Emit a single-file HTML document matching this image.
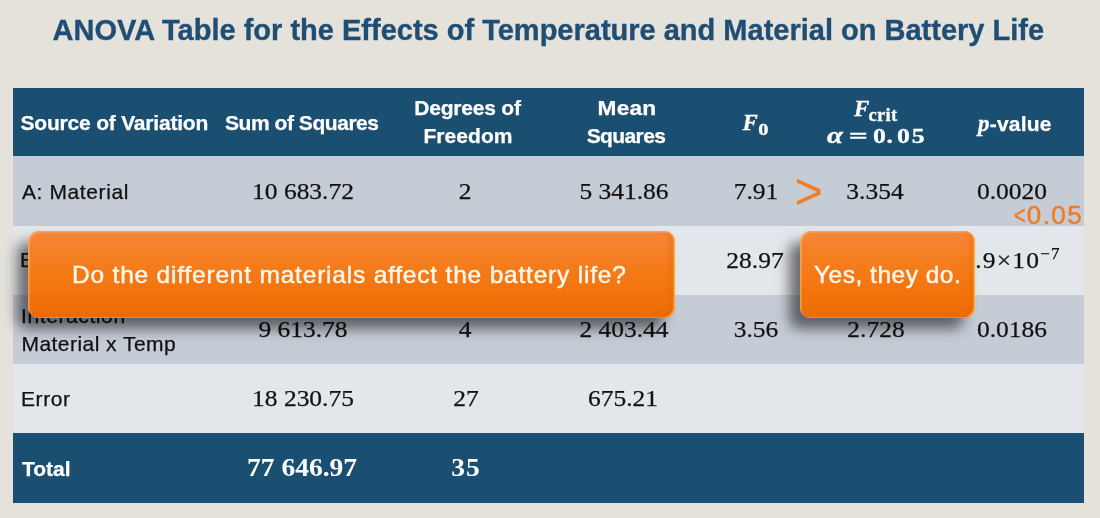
<!DOCTYPE html>
<html lang="en">
<head>
<meta charset="utf-8">
<title>ANOVA Table</title>
<style>
html,body{margin:0;padding:0;}
body{width:1100px;height:518px;overflow:hidden;position:relative;background:#e5e1db;font-family:"Liberation Sans",sans-serif;}
.abs{position:absolute;white-space:nowrap;line-height:1;}
.c{transform:translateX(-50%);}
#title{left:52.5px;top:16px;font-size:29px;font-weight:bold;color:#1f4e75;-webkit-text-stroke:0.35px #1f4e75;transform-origin:0 50%;}
.band{position:absolute;left:13px;width:1071px;}
.hd{background:#1b4f72;}
.r1{background:#c6ccd6;}
.r2{background:#e3e6ea;}
.h{color:#fff;font-weight:bold;font-size:21px;letter-spacing:-0.2px;-webkit-text-stroke:0.25px #fff;}
.t{color:#111;font-size:21px;letter-spacing:0.6px;-webkit-text-stroke:0.25px #111;}
.n{font-family:"Liberation Serif",serif;color:#111;font-size:24px;letter-spacing:0;-webkit-text-stroke:0.25px #111;}
.n.c{transform:translateX(-50%) scaleX(1.062);}
.nb{font-family:"Liberation Serif",serif;color:#fff;font-size:25px;font-weight:bold;letter-spacing:0;}
.nb.c{transform:translateX(-50%) scaleX(1.1);}
.m{font-family:"Liberation Serif",serif;font-style:italic;font-weight:bold;color:#fff;-webkit-text-stroke:0.3px #fff;}
.call{position:absolute;border-radius:11px;background:linear-gradient(180deg,#f68638 0%,#f57d1f 35%,#f47610 62%,#ec6b03 100%);box-shadow:-11px 11px 13px rgba(0,0,0,.52), inset -1.5px -0.5px 1px rgba(255,185,70,.85), inset -5px -2px 4px rgba(225,95,0,.35), inset 1.5px 1.5px 1.5px rgba(255,205,140,.5);}
.ct{color:#fff8ec;font-size:24.5px;letter-spacing:0.8px;-webkit-text-stroke:0.45px #fff8ec;}
.o{color:#f07d22;}
</style>
</head>
<body>
<div id="title" class="abs">ANOVA Table for the Effects of Temperature and Material on Battery Life</div>

<div class="band hd" style="top:88px;height:68px;"></div>
<div class="band r1" style="top:156px;height:70px;"></div>
<div class="band r2" style="top:225.5px;height:69px;"></div>
<div class="band r1" style="top:294.5px;height:69px;"></div>
<div class="band r2" style="top:363.5px;height:70px;"></div>
<div class="band hd" style="top:433px;height:69.5px;"></div>

<!-- header -->
<div class="abs h" id="h1" style="left:20.5px;top:112px;">Source of Variation</div>
<div class="abs h" id="h2" style="left:225px;top:112px;letter-spacing:-0.45px;">Sum of Squares</div>
<div class="abs h c" id="h3a" style="left:467.5px;top:97.2px;">Degrees of</div>
<div class="abs h c" id="h3b" style="left:468px;top:124.8px;letter-spacing:0.05px;">Freedom</div>
<div class="abs h c" id="h4a" style="left:627px;top:97.2px;letter-spacing:0.2px;transform:translateX(-50%) scaleX(1.08);">Mean</div>
<div class="abs h c" id="h4b" style="left:626px;top:124.8px;letter-spacing:-0.6px;">Squares</div>
<div class="abs m" id="h5" style="left:742.5px;top:110.5px;font-size:23px;">F<span style="font-style:normal;font-size:17px;position:relative;top:5.5px;left:1.5px;display:inline-block;transform:scaleX(1.2);">0</span></div>
<div class="abs m" id="h6a" style="left:854px;top:97px;font-size:23px;">F<span style="font-style:normal;font-size:18.5px;position:relative;top:5px;left:-0.8px;letter-spacing:0.3px;">crit</span></div>
<div class="abs m" id="h6b" style="left:827px;top:122.5px;font-size:21.5px;letter-spacing:0.5px;transform:scaleX(1.2);transform-origin:0 50%;"><span style="font-size:24px;">α</span><span style="font-style:normal;"> <span style="display:inline-block;transform:scaleX(1.3);">=</span> 0.<span style="letter-spacing:-2.5px;"> </span>0<span style="letter-spacing:1px;"></span><span style="margin-left:1px;">5</span></span></div>
<div class="abs h" id="h7" style="left:978px;top:112px;letter-spacing:0.2px;"><span class="m" style="font-size:23px;">p</span>-value</div>

<!-- row 1 -->
<div class="abs t" id="a1" style="left:22px;top:181px;">A: Material</div>
<div class="abs n c" id="a2" style="top:179px;left:302.5px;">10 683.72</div>
<div class="abs n c" id="a3" style="top:179px;left:465px;">2</div>
<div class="abs n c" id="a4" style="top:179px;left:623.5px;">5 341.86</div>
<div class="abs n c" id="a5" style="top:179px;left:755.5px;">7.91</div>
<div class="abs n c" id="a6" style="top:179px;left:875px;">3.354</div>
<div class="abs n c" id="a7" style="top:179px;left:1011.5px;">0.0020</div>
<div class="abs o" id="gt" style="left:794.3px;top:166.3px;font-size:50px;transform:scale(0.97,1.04);">&gt;</div>
<div class="abs o" id="lt" style="left:1014px;top:202px;font-size:26px;letter-spacing:1.5px;-webkit-text-stroke:0.5px #f07d22;"><span style="display:inline-block;transform:scaleX(0.75);transform-origin:0 50%;margin-right:-4px;">&lt;</span>0.05</div>

<!-- row 2 -->
<div class="abs t" id="b1" style="left:20px;top:249px;">B: Temperature</div>
<div class="abs n c" id="b2" style="top:247.5px;left:302.5px;">39 118.72</div>
<div class="abs n c" id="b3" style="top:247.5px;left:465px;">2</div>
<div class="abs n c" id="b4" style="top:247.5px;left:623.5px;">19 559.36</div>
<div class="abs n c" id="b5" style="top:247.5px;left:755px;">28.97</div>
<div class="abs n c" id="b6" style="top:247.5px;left:875px;">3.354</div>
<div class="abs n c" id="b7" style="top:247.5px;left:1011px;letter-spacing:1.1px;">1.9×10<span style="font-size:16px;position:relative;top:-9px;">−7</span></div>

<!-- row 3 -->
<div class="abs t" id="c1a" style="left:21px;top:305px;">Interaction</div>
<div class="abs t" id="c1b" style="left:21.5px;top:333px;letter-spacing:0.45px;">Material x Temp</div>
<div class="abs n c" id="c2" style="top:317px;left:302.5px;">9 613.78</div>
<div class="abs n c" id="c3" style="top:317px;left:464.5px;">4</div>
<div class="abs n c" id="c4" style="top:317px;left:624px;">2 403.44</div>
<div class="abs n c" id="c5" style="top:317px;left:755.5px;">3.56</div>
<div class="abs n c" id="c6" style="top:317px;left:875.5px;">2.728</div>
<div class="abs n c" id="c7" style="top:317px;left:1011.5px;">0.0186</div>

<!-- row 4 -->
<div class="abs t" id="d1" style="left:21px;top:388px;">Error</div>
<div class="abs n c" id="d2" style="margin-top:-1.3px;left:302.5px;top:387px;">18 230.75</div>
<div class="abs n c" id="d3" style="margin-top:-1.3px;left:465.5px;top:387px;">27</div>
<div class="abs n c" id="d4" style="margin-top:-1.3px;left:623px;top:387px;">675.21</div>

<!-- total -->
<div class="abs h" id="e1" style="left:22px;top:457.5px;font-size:21px;letter-spacing:0px;">Total</div>
<div class="abs nb c" id="e2" style="left:302px;top:455.2px;">77 646.97</div>
<div class="abs nb c" id="e3" style="left:466px;top:455.2px;letter-spacing:1px;">35</div>

<!-- callouts -->
<div class="call" id="q" style="left:27.5px;top:231px;width:647px;height:86.5px;"></div>
<div class="abs ct" id="qt" style="left:72px;top:263.2px;">Do the different materials affect the battery life?</div>
<div class="call" id="y" style="left:799.5px;top:231px;width:175px;height:86.5px;"></div>
<div class="abs ct" id="yt" style="left:814px;top:263px;letter-spacing:0.5px;">Yes, they do.</div>
</body>
</html>
